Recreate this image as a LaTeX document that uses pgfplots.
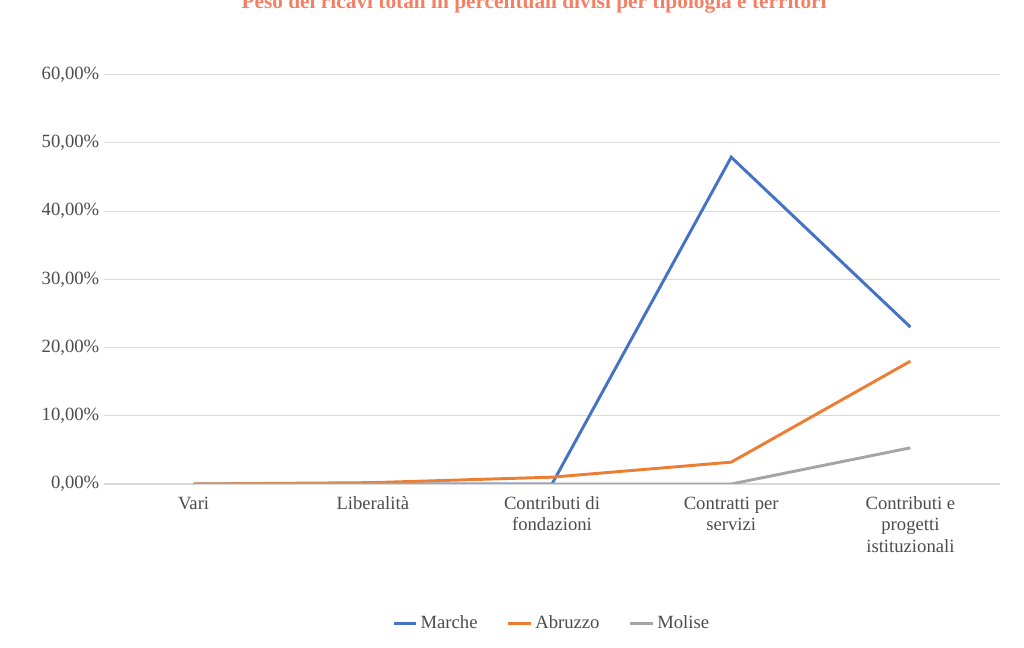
\documentclass[border=0pt]{standalone}
\usepackage{pgfplots}
\pgfplotsset{compat=1.18}
\usepackage{fontspec}
\setmainfont{Liberation Serif}
\definecolor{cM}{RGB}{68,114,196}
\definecolor{cA}{RGB}{237,125,49}
\definecolor{cG}{RGB}{165,165,165}
\definecolor{cT}{RGB}{244,128,100}
\begin{document}
\begin{tikzpicture}
\path[use as bounding box] (0,0) rectangle (768pt,486pt);
\begin{axis}[at={(78pt,123pt)},anchor=south west,
 scale only axis, width=672pt, height=307pt,
 xmin=-0.5, xmax=4.5, ymin=0, ymax=60,
 axis line style={draw=none}, tick style={draw=none},
 ymajorgrids, grid style={gray!30, line width=0.8pt},
 ytick={0,10,...,60},
 yticklabel={\pgfmathprintnumber[fixed,fixed zerofill,precision=2,use comma]{\tick}\%},
 /pgf/number format/assume math mode=true,
 xtick=data,
 xticklabels={Vari,Liberalità,{Contributi di\\fondazioni},{Contratti per\\servizi},{Contributi e\\progetti\\istituzionali}},
 xticklabel style={align=center, text=black!70, font=\fontsize{14}{16}\selectfont, yshift=-6pt},
 yticklabel style={text=black!70, font=\fontsize{14}{16}\selectfont},
 title={\textbf{Peso dei ricavi totali in percentuali divisi per tipologia e territori}},
 title style={text=cT, font=\fontsize{16}{18}\selectfont, at={(0.48,1.12)}},
 legend style={at={(0.5,-0.34)}, anchor=center, draw=none, fill=none, legend columns=3, font=\fontsize{14}{16}\selectfont, text=black!70, /tikz/every even column/.append style={column sep=20pt}},
]
\addplot[cM, line width=2.2pt] coordinates {(0,0)(1,0)(2,0)(3,47.9)(4,23)};
\addplot[cA, line width=2.2pt] coordinates {(0,0)(1,0.2)(2,1.0)(3,3.2)(4,18)};
\addplot[cG, line width=2.2pt] coordinates {(0,0)(1,0)(2,0)(3,0)(4,5.3)};
\legend{Marche,Abruzzo,Molise}
\end{axis}
\end{tikzpicture}
\end{document}
